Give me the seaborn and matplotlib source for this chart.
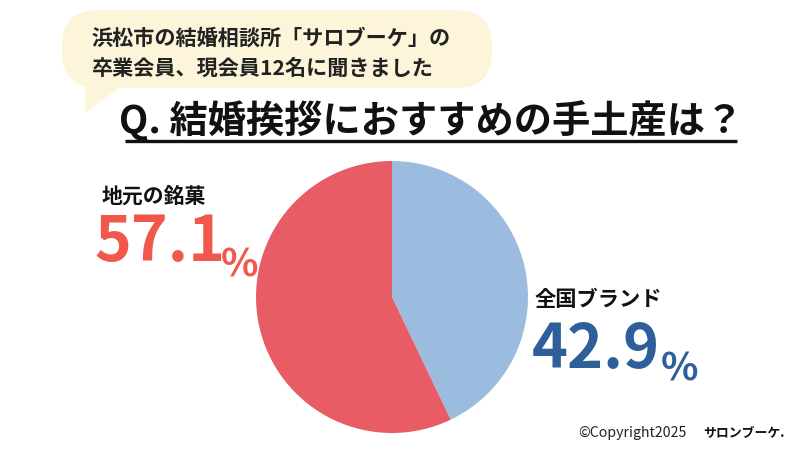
import matplotlib
matplotlib.use("Agg")
import matplotlib.pyplot as plt
import seaborn as sns
from matplotlib.patches import FancyBboxPatch, Polygon

# ---- data ----
categories = ["全国ブランド", "地元の銘菓"]
values = [42.9, 57.1]
value_labels = ["42.9", "57.1"]
title = "Q. 結婚挨拶におすすめの手土産は？"
bubble_lines = ["浜松市の結婚相談所「サロブーケ」の", "卒業会員、現会員12名に聞きました"]

sns.set_theme(style="white")
plt.rcParams['font.family'] = ['Noto Sans CJK JP', 'DejaVu Sans']

pie_colors = ["#9bbcde", "#e85c66"]
label_colors = ["#2f5f9a", "#f0584c"]

fig = plt.figure(figsize=(8, 4.5), dpi=100)
fig.patch.set_facecolor("white")

# overlay axes in pixel coordinates for decorations
bg = fig.add_axes([0, 0, 1, 1])
bg.set_xlim(0, 800)
bg.set_ylim(450, 0)
bg.axis("off")

# speech bubble
bubble = FancyBboxPatch((62, 10), 430, 78,
                        boxstyle="round,pad=0,rounding_size=36",
                        fc="#fcf5da", ec="none")
bg.add_patch(bubble)
bg.add_patch(Polygon([(85, 70), (85, 113), (122, 86)], closed=True,
                     fc="#fcf5da", ec="none"))
bg.text(92, 38, bubble_lines[0], fontsize=15.2, fontweight="bold",
        color="#222222", va="center", ha="left")
bg.text(92, 68, bubble_lines[1], fontsize=15.2, fontweight="bold",
        color="#222222", va="center", ha="left")

# title with underline
bg.text(431, 121, title, fontsize=27.5, fontweight="bold", color="#111111",
        va="center", ha="center")
bg.plot([125, 737], [140.5, 140.5], color="#111111", lw=2.4,
        solid_capstyle="butt")

# pie
ax = fig.add_axes([(392 - 136) / 800, (450 - 297 - 136) / 450, 272 / 800, 272 / 450])
ax.pie(values, colors=pie_colors, startangle=90, counterclock=False,
       wedgeprops=dict(linewidth=0))
ax.set_xlim(-1, 1)
ax.set_ylim(-1, 1)
ax.set_aspect("equal")
ax.axis("off")

# labels
bg.text(102, 196, categories[1], fontsize=15, fontweight="bold",
        color="#111111", va="center", ha="left")
bg.text(94, 242, value_labels[1], fontsize=45, fontweight="bold",
        color=label_colors[1], va="center", ha="left")
bg.text(221, 265, "%", fontsize=28, fontweight="bold",
        color=label_colors[1], va="center", ha="left")

bg.text(535, 300, categories[0], fontsize=15.3, fontweight="bold",
        color="#111111", va="center", ha="left")
bg.text(532, 350, value_labels[0], fontsize=44, fontweight="bold",
        color=label_colors[0], va="center", ha="left")
bg.text(661, 369, "%", fontsize=28, fontweight="bold",
        color=label_colors[0], va="center", ha="left")

# copyright
bg.text(578, 433, "©Copyright2025", fontsize=10.2, color="#222222",
        va="center", ha="left")
bg.text(703, 433, "サロンブーケ.", fontsize=9.3, fontweight="bold",
        color="#111111", va="center", ha="left")

fig.savefig("out.png", dpi=100, facecolor="white")
